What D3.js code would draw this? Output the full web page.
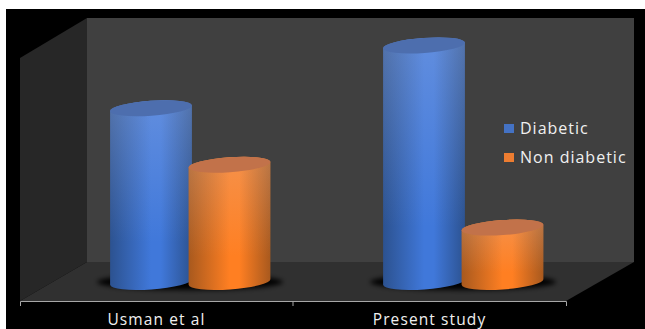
<!DOCTYPE html>
<html>
<head>
<meta charset="utf-8">
<script src="https://cdn.jsdelivr.net/npm/d3@7"></script>
<style>
  html, body { margin: 0; padding: 0; background: #fff; overflow: hidden; }
  svg { display: block; }
  text { font-family: "Open Sans", sans-serif; fill: #f0f0f0; }
</style>
</head>
<body>
<div id="chart"></div>
<script>
const categories = ['Usman et al', 'Present study'];
const seriesNames = ['Diabetic', 'Non diabetic'];
const diabetic = [59.7, 81.3];
const nonDiabetic = [40.3, 18.7];

const width = 645, height = 329;

// 3D box of the plot area
const box = { left: 20, right: 566, front: 301, back: 262, top: 18, depthX: 67 };
const baseY = 282;
const radiusX = 41, radiusY = 7.5, tilt = -4;

const colors = {
  Diabetic: { mid: '#4078da', edge: '#2c5290', lid: '#4d6eae', glaze: '#a8bce8', key: '#4472c4' },
  'Non diabetic': { mid: '#ff7f22', edge: '#a8591e', lid: '#c2724a', glaze: '#e0b8a0', key: '#ed7d31' }
};

const x0 = d3.scaleBand().domain(categories).range([box.left, box.right]);
const x1 = d3.scaleOrdinal().domain(seriesNames).range([x0.bandwidth() / 2 - 5.5, x0.bandwidth() / 2 + 73]);
const y = d3.scaleLinear().domain([0, 100]).range([baseY, baseY - 291]);

const svg = d3.select('#chart').append('svg')
    .attr('width', width)
    .attr('height', height);

svg.append('rect')
    .attr('x', 6).attr('y', 9)
    .attr('width', width - 6).attr('height', height - 9)
    .attr('fill', '#000');

const defs = svg.append('defs');

defs.append('filter').attr('id', 'soft')
    .attr('x', '-20%').attr('y', '-60%').attr('width', '140%').attr('height', '220%')
  .append('feGaussianBlur').attr('stdDeviation', 2.5);

seriesNames.forEach((name, i) => {
  const c = colors[name];
  defs.append('linearGradient').attr('id', 'side' + i)
    .selectAll('stop')
    .data([[0, c.edge], [0.5, c.mid], [0.62, c.mid], [1, c.edge]])
    .enter().append('stop')
      .attr('offset', d => d[0])
      .attr('stop-color', d => d[1]);

  // paler near the top of a column, full colour near the floor
  const fade = defs.append('linearGradient').attr('id', 'fade' + i)
      .attr('x1', 0).attr('x2', 0).attr('y1', 0).attr('y2', 1);
  fade.append('stop').attr('offset', 0).attr('stop-color', c.glaze).attr('stop-opacity', 0.32);
  fade.append('stop').attr('offset', 0.75).attr('stop-color', c.glaze).attr('stop-opacity', 0);
});

// Walls and floor
const walls = svg.append('g');
walls.append('polygon')
    .attr('points', [[box.left, box.top + 40], [box.left + box.depthX, box.top], [box.left + box.depthX, box.back], [box.left, box.front]].join(' '))
    .attr('fill', '#272727');
walls.append('rect')
    .attr('x', box.left + box.depthX).attr('y', box.top)
    .attr('width', box.right + 68 - box.left - box.depthX).attr('height', box.back - box.top)
    .attr('fill', '#404040');
walls.append('polygon')
    .attr('points', [[box.left, box.front], [box.left + box.depthX, box.back], [box.right + 68, box.back], [box.right, box.front]].join(' '))
    .attr('fill', '#303030');

// Soft shadow under each pair of columns
svg.append('g').selectAll('ellipse')
    .data(categories)
    .enter().append('ellipse')
      .attr('cx', d => x0(d) + x0.bandwidth() / 2 + 33.5)
      .attr('cy', baseY)
      .attr('rx', 93)
      .attr('ry', 8)
      .attr('fill', '#000')
      .attr('filter', 'url(#soft)');

function ends(cx, cy) {
  const a = tilt * Math.PI / 180;
  const dx = radiusX * Math.cos(a), dy = radiusX * Math.sin(a);
  return { lx: cx - dx, ly: cy - dy, rx: cx + dx, ry: cy + dy };
}

function sidePath(cx, top, bottom) {
  const t = ends(cx, top), b = ends(cx, bottom);
  const arc = `A${radiusX},${radiusY} ${tilt} 0 0`;
  return `M${t.lx},${t.ly}L${b.lx},${b.ly}${arc} ${b.rx},${b.ry}L${t.rx},${t.ry}${arc} ${t.lx},${t.ly}Z`;
}

const rows = [];
categories.forEach((cat, i) => {
  rows.push({ cat, name: seriesNames[0], s: 0, value: diabetic[i] });
  rows.push({ cat, name: seriesNames[1], s: 1, value: nonDiabetic[i] });
});

const columns = svg.append('g').selectAll('g')
    .data(rows)
    .enter().append('g')
      .attr('class', 'column');

columns.append('path')
    .attr('d', d => sidePath(x0(d.cat) + x1(d.name), y(d.value), y(0)))
    .attr('fill', d => `url(#side${d.s})`);
columns.append('path')
    .attr('d', d => sidePath(x0(d.cat) + x1(d.name), y(d.value), y(0)))
    .attr('fill', d => `url(#fade${d.s})`);
columns.append('ellipse')
    .attr('rx', radiusX)
    .attr('ry', radiusY)
    .attr('transform', d => `translate(${x0(d.cat) + x1(d.name)},${y(d.value)}) rotate(${tilt})`)
    .attr('fill', d => colors[d.name].lid);

// Category axis, ticks sit on the band edges
const axis = svg.append('g')
    .attr('transform', `translate(0,${box.front})`)
    .call(d3.axisBottom(x0).tickSize(0).tickSizeOuter(5).tickPadding(14));
axis.select('.domain').attr('stroke', '#a6a6a6');
axis.selectAll('.tick text')
    .attr('x', 0)
    .attr('y', 24)
    .attr('dy', 0)
    .style('font-size', '15.5px')
    .style('letter-spacing', '1.1px')
    .style('font-family', '"Open Sans", sans-serif')
    .style('fill', '#f0f0f0');
axis.append('line')
    .attr('x1', x0(categories[1])).attr('x2', x0(categories[1]))
    .attr('y1', 0).attr('y2', 5)
    .attr('stroke', '#a6a6a6');

// Legend
const legend = svg.append('g').selectAll('g')
    .data(seriesNames)
    .enter().append('g')
      .attr('transform', (d, i) => `translate(504,${124 + i * 29})`);
legend.append('rect')
    .attr('width', 10).attr('height', 9)
    .attr('fill', d => colors[d].key);
legend.append('text')
    .attr('x', 16).attr('y', 10)
    .style('font-size', '16px')
    .style('letter-spacing', '1px')
    .text(d => d);
</script>
</body>
</html>
